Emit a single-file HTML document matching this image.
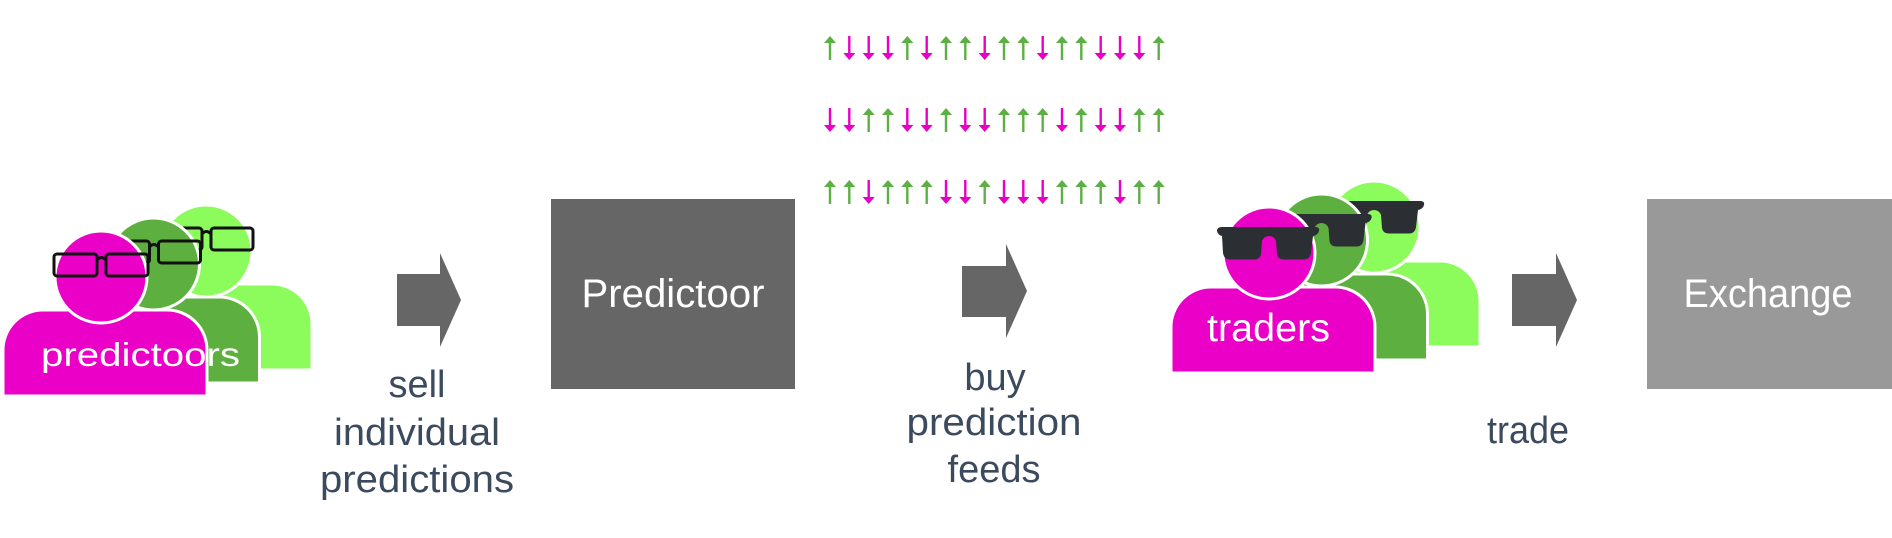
<!DOCTYPE html>
<html><head><meta charset="utf-8"><style>
html,body{margin:0;padding:0;background:#fff;}
svg{display:block;}
text{font-family:"Liberation Sans",sans-serif;}
</style></head><body>
<svg width="1892" height="538" viewBox="0 0 1892 538" xmlns="http://www.w3.org/2000/svg">
<defs>
  <path id="upA" d="M-1.2,24 L-1.2,7 L-6,7 L0,0 L6,7 L1.2,7 L1.2,24 Z" fill="#5cb043"/>
  <path id="dnA" d="M-1.2,0 L-1.2,17 L-6,17 L0,24 L6,17 L1.2,17 L1.2,0 Z" fill="#e800c4"/>
  <path id="bodyShape" d="M0,86 L0,40 A40,40 0 0 1 40,0 L164,0 A40,40 0 0 1 204,40 L204,86 Z"/>
  <g id="glassesP" fill="none" stroke="#111" stroke-width="3">
    <rect x="-47" y="-23" width="43" height="22" rx="3"/>
    <rect x="5" y="-23" width="42" height="22" rx="3"/>
    <path d="M-4,-17 Q0,-22 5,-17"/>
  </g>
  <path id="shades" fill="#2b2e33" d="M-52,-22 Q-52,-26 -47,-26 L46,-26 Q51,-26 50,-22 Q49,-18 44,-17 L42,0 Q41,6.5 35,6.5 L15,6.5 Q9,6.5 8,1 L7,-12 Q5,-17 0,-17 Q-5,-17 -7,-12 L-8,1 Q-9,6.5 -15,6.5 L-39,6.5 Q-45,6.5 -46,0 L-47,-17 Q-51,-18 -52,-22 Z"/>
</defs>

<!-- Predictoors group -->
<g transform="translate(108,284)">
  <use href="#bodyShape" fill="#8cfb5c" stroke="#fff" stroke-width="3"/>
  <circle cx="98" cy="-33" r="46" fill="#8cfb5c" stroke="#fff" stroke-width="3"/>
  <use href="#glassesP" transform="translate(98,-33)"/>
</g>
<g transform="translate(55.5,297)">
  <use href="#bodyShape" fill="#5db040" stroke="#fff" stroke-width="3"/>
  <circle cx="98" cy="-33" r="46" fill="#5db040" stroke="#fff" stroke-width="3"/>
  <use href="#glassesP" transform="translate(98,-33)"/>
</g>
<g transform="translate(3,310)">
  <use href="#bodyShape" fill="#ea00c6" stroke="#fff" stroke-width="3"/>
  <circle cx="98" cy="-33" r="46" fill="#ea00c6" stroke="#fff" stroke-width="3"/>
  <use href="#glassesP" transform="translate(98,-33)"/>
</g>
<text x="41" y="366" font-size="33" fill="#fff" textLength="199" lengthAdjust="spacingAndGlyphs">predictoors</text>

<!-- Arrow 1 -->
<path d="M397,274 L440,274 L440,253 L461,300 L440,347 L440,326 L397,326 Z" fill="#666"/>
<g font-size="38" fill="#3c4a5e" text-anchor="middle">
  <text x="417" y="397">sell</text>
  <text x="417" y="445" textLength="166" lengthAdjust="spacingAndGlyphs">individual</text>
  <text x="417" y="492" textLength="194" lengthAdjust="spacingAndGlyphs">predictions</text>
</g>

<!-- Predictoor box -->
<rect x="551" y="199" width="244" height="190" fill="#666"/>
<text x="673" y="307" font-size="40" fill="#fff" text-anchor="middle" textLength="183" lengthAdjust="spacingAndGlyphs">Predictoor</text>

<!-- Arrow rows -->
<g id="rows">
  <g transform="translate(0,36)">
    <use href="#upA" x="830"/><use href="#dnA" x="849.3"/><use href="#dnA" x="868.7"/><use href="#dnA" x="888"/><use href="#upA" x="907.3"/><use href="#dnA" x="926.7"/><use href="#upA" x="946"/><use href="#upA" x="965.3"/><use href="#dnA" x="984.7"/><use href="#upA" x="1004"/><use href="#upA" x="1023.3"/><use href="#dnA" x="1042.7"/><use href="#upA" x="1062"/><use href="#upA" x="1081.3"/><use href="#dnA" x="1100.7"/><use href="#dnA" x="1120"/><use href="#dnA" x="1139.3"/><use href="#upA" x="1158.7"/>
  </g>
  <g transform="translate(0,108)">
    <use href="#dnA" x="830"/><use href="#dnA" x="849.3"/><use href="#upA" x="868.7"/><use href="#upA" x="888"/><use href="#dnA" x="907.3"/><use href="#dnA" x="926.7"/><use href="#upA" x="946"/><use href="#dnA" x="965.3"/><use href="#dnA" x="984.7"/><use href="#upA" x="1004"/><use href="#upA" x="1023.3"/><use href="#upA" x="1042.7"/><use href="#dnA" x="1062"/><use href="#upA" x="1081.3"/><use href="#dnA" x="1100.7"/><use href="#dnA" x="1120"/><use href="#upA" x="1139.3"/><use href="#upA" x="1158.7"/>
  </g>
  <g transform="translate(0,180)">
    <use href="#upA" x="830"/><use href="#upA" x="849.3"/><use href="#dnA" x="868.7"/><use href="#upA" x="888"/><use href="#upA" x="907.3"/><use href="#upA" x="926.7"/><use href="#dnA" x="946"/><use href="#dnA" x="965.3"/><use href="#upA" x="984.7"/><use href="#dnA" x="1004"/><use href="#dnA" x="1023.3"/><use href="#dnA" x="1042.7"/><use href="#upA" x="1062"/><use href="#upA" x="1081.3"/><use href="#upA" x="1100.7"/><use href="#dnA" x="1120"/><use href="#upA" x="1139.3"/><use href="#upA" x="1158.7"/>
  </g>
</g>

<!-- Arrow 2 -->
<path d="M962,266 L1006,266 L1006,244 L1027,291 L1006,338 L1006,317 L962,317 Z" fill="#666"/>
<g font-size="38" fill="#3c4a5e" text-anchor="middle">
  <text x="995" y="390">buy</text>
  <text x="994" y="435" textLength="175" lengthAdjust="spacingAndGlyphs">prediction</text>
  <text x="994" y="482">feeds</text>
</g>

<!-- Traders group -->
<g transform="translate(1276,261)">
  <use href="#bodyShape" fill="#8cfb5c" stroke="#fff" stroke-width="3"/>
  <circle cx="98" cy="-34" r="46" fill="#8cfb5c" stroke="#fff" stroke-width="3"/>
  <use href="#shades" transform="translate(98,-34)"/>
</g>
<g transform="translate(1223.5,274)">
  <use href="#bodyShape" fill="#5db040" stroke="#fff" stroke-width="3"/>
  <circle cx="98" cy="-34" r="46" fill="#5db040" stroke="#fff" stroke-width="3"/>
  <use href="#shades" transform="translate(98,-34)"/>
</g>
<g transform="translate(1171,287)">
  <use href="#bodyShape" fill="#ea00c6" stroke="#fff" stroke-width="3"/>
  <circle cx="98" cy="-34" r="46" fill="#ea00c6" stroke="#fff" stroke-width="3"/>
  <use href="#shades" transform="translate(98,-34)"/>
</g>
<text x="1207" y="341" font-size="39" fill="#fff" textLength="123" lengthAdjust="spacingAndGlyphs">traders</text>

<!-- Arrow 3 -->
<path d="M1512,274 L1556,274 L1556,253 L1577,300 L1556,347 L1556,326 L1512,326 Z" fill="#666"/>
<text x="1528" y="443" font-size="38" fill="#3c4a5e" text-anchor="middle" textLength="82" lengthAdjust="spacingAndGlyphs">trade</text>

<!-- Exchange box -->
<rect x="1647" y="199" width="245" height="190" fill="#999"/>
<text x="1768" y="307" font-size="40" fill="#fff" text-anchor="middle" textLength="169" lengthAdjust="spacingAndGlyphs">Exchange</text>
</svg>
</body></html>
